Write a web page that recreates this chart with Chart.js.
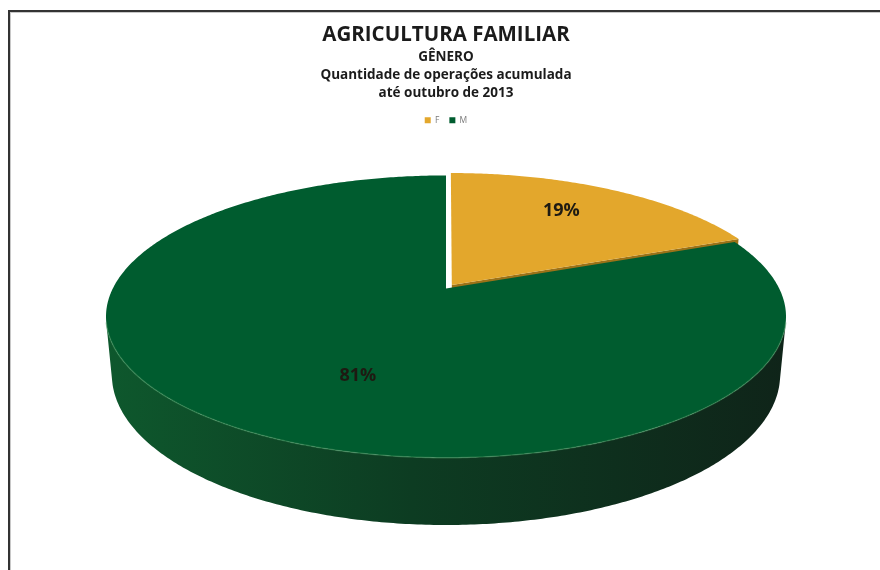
<!DOCTYPE html>
<html>
<head>
<meta charset="utf-8">
<script src="https://cdn.jsdelivr.net/npm/chart.js@4.4.0/dist/chart.umd.min.js"></script>
<style>
  html, body { margin: 0; padding: 0; background: #fff; overflow: hidden; }
  #wrap { position: relative; width: 880px; height: 570px; overflow: hidden; }
  #frame { position: absolute; left: 8px; top: 10px; width: 900px; height: 600px;
           border-left: 2px solid #333; border-top: 2px solid #333; box-shadow: inset 1px 1px 0 #c8c8c8; }
  canvas { position: absolute; left: 0; top: 0; }
</style>
</head>
<body>
<div id="wrap">
  <div id="frame"></div>
  <canvas id="pieChart" width="880" height="570"></canvas>
</div>
<script>
// data
const categories = ["F", "M"];
const values = [19, 81];
const titleText = "AGRICULTURA FAMILIAR";
const subtitleLines = ["GÊNERO", "Quantidade de operações acumulada", "até outubro de 2013"];

// colours
const sliceColors = ["#e3a72c", "#005c2f"];
const cutColors = ["#9c7218", "#0b3d20"];
const wallStops = [
    ["#b8861f", "#8f6716", "#6e4f12"],
    ["#0e582d", "#0d3c22", "#0f2419"]
];
// label placement (fraction of radius, angle shift in degrees)
const labelRadius = [0.72, 0.62];
const labelShift = [-3, -12];

// 3d view (pie radius = 1)
const ELEV = 24 * Math.PI / 180;
const DIST = 4.57;
const THICK = 0.19;

function makeView(chart) {
    const area = chart.chartArea;
    const sinE = Math.sin(ELEV), cosE = Math.cos(ELEV);
    let maxW = 0;
    for (let t = -Math.PI / 2; t <= Math.PI / 2; t += 0.002) {
        maxW = Math.max(maxW, Math.cos(t) / (DIST - cosE * Math.sin(t)));
    }
    const halfW = (area.right - area.left) / 2;
    const F = halfW / maxW;
    const cx = (area.left + area.right) / 2;
    const cy = area.bottom - F * (sinE + THICK * cosE) / (DIST - cosE + THICK * sinE);
    const proj = (X, Z, h) => {
        const d = DIST - Z * cosE - h * sinE;
        return [cx + F * X / d, cy + F * (Z * sinE - h * cosE) / d];
    };
    return { proj, cx, halfW };
}

function sliceInfo(el) {
    const off = (el.options.offset || 0) / el.outerRadius;
    const mid = (el.startAngle + el.endAngle) / 2;
    return { a0: el.startAngle, a1: el.endAngle, mid, ox: off * Math.cos(mid), oz: off * Math.sin(mid) };
}

function arcPoints(proj, s, from, to, h) {
    const pts = [];
    const n = Math.max(2, Math.ceil(Math.abs(to - from) / 0.01));
    for (let i = 0; i <= n; i++) {
        const a = from + (to - from) * i / n;
        pts.push(proj(s.ox + Math.cos(a), s.oz + Math.sin(a), h));
    }
    return pts;
}

function fillPoly(ctx, pts, style) {
    ctx.beginPath();
    pts.forEach((p, i) => i ? ctx.lineTo(p[0], p[1]) : ctx.moveTo(p[0], p[1]));
    ctx.closePath();
    ctx.fillStyle = style;
    ctx.fill();
}

function cutFace(proj, s, a) {
    return [
        proj(s.ox, s.oz, 0),
        proj(s.ox + Math.cos(a), s.oz + Math.sin(a), 0),
        proj(s.ox + Math.cos(a), s.oz + Math.sin(a), -THICK),
        proj(s.ox, s.oz, -THICK)
    ];
}

const pie3d = {
    id: "pie3d",
    beforeDatasetsDraw(chart) {
        const ctx = chart.ctx;
        const meta = chart.getDatasetMeta(0);
        const { proj, cx, halfW } = makeView(chart);
        const arcs = meta.data.map(sliceInfo);
        const limit = Math.asin(1 / (DIST * Math.cos(ELEV)));

        ctx.save();
        // walls and cut faces first
        arcs.forEach((s, i) => {
            if (Math.cos(s.a1) > 0.01) fillPoly(ctx, cutFace(proj, s, s.a1), cutColors[i]);
            if (-Math.cos(s.a0) > 0.01) fillPoly(ctx, cutFace(proj, s, s.a0), cutColors[i]);
            const from = Math.max(s.a0, limit);
            const to = Math.min(s.a1, Math.PI - limit);
            if (to > from) {
                const g = ctx.createLinearGradient(cx - halfW, 0, cx + halfW, 0);
                g.addColorStop(0, wallStops[i][0]);
                g.addColorStop(0.45, wallStops[i][1]);
                g.addColorStop(1, wallStops[i][2]);
                const pts = arcPoints(proj, s, from, to, 0)
                    .concat(arcPoints(proj, s, from, to, -THICK).reverse());
                fillPoly(ctx, pts, g);
            }
        });
        // top faces
        arcs.forEach((s, i) => {
            const pts = [proj(s.ox, s.oz, 0)].concat(arcPoints(proj, s, s.a0, s.a1, 0));
            fillPoly(ctx, pts, sliceColors[i]);
        });
        // soft rim on the front edge
        arcs.forEach(s => {
            const from = Math.max(s.a0, limit);
            const to = Math.min(s.a1, Math.PI - limit);
            if (to <= from) return;
            const pts = arcPoints(proj, s, from, to, 0);
            ctx.beginPath();
            pts.forEach((p, j) => j ? ctx.lineTo(p[0], p[1]) : ctx.moveTo(p[0], p[1]));
            ctx.strokeStyle = "rgba(70,150,95,0.45)";
            ctx.lineWidth = 1.5;
            ctx.stroke();
        });
        // percentage labels
        const total = values.reduce((a, b) => a + b, 0);
        ctx.font = "bold 18px 'Open Sans', sans-serif";
        ctx.fillStyle = "#1e1a12";
        ctx.textAlign = "center";
        ctx.textBaseline = "middle";
        arcs.forEach((s, i) => {
            const f = labelRadius[i];
            const a = s.mid + labelShift[i] * Math.PI / 180;
            const p = proj(s.ox + f * Math.cos(a), s.oz + f * Math.sin(a), 0);
            ctx.fillText(Math.round(values[i] / total * 100) + "%", p[0], p[1]);
        });
        ctx.restore();
        return false;
    }
};

Chart.defaults.font.family = "'Open Sans', sans-serif";

new Chart(document.getElementById("pieChart"), {
    type: "pie",
    data: {
        labels: categories,
        datasets: [{
            data: values,
            backgroundColor: sliceColors,
            borderWidth: 0,
            offset: [6, 0]
        }]
    },
    options: {
        responsive: false,
        animation: false,
        events: [],
        layout: { padding: { left: 106, right: 94, top: 0, bottom: 45 } },
        plugins: {
            title: {
                display: true,
                text: titleText,
                color: "#1b1b1b",
                font: { size: 20.5, weight: "bold" },
                padding: { top: 23, bottom: 0 }
            },
            subtitle: {
                display: true,
                text: subtitleLines,
                color: "#1b1b1b",
                font: { size: 13.5, weight: "bold", lineHeight: 1.333 },
                padding: { top: 0.5, bottom: 4 }
            },
            legend: {
                position: "top",
                labels: {
                    boxWidth: 6,
                    boxHeight: 6,
                    padding: 10,
                    color: "#7a7a7a",
                    font: { size: 8.5 }
                }
            },
            tooltip: { enabled: false }
        }
    },
    plugins: [pie3d]
});
</script>
</body>
</html>
